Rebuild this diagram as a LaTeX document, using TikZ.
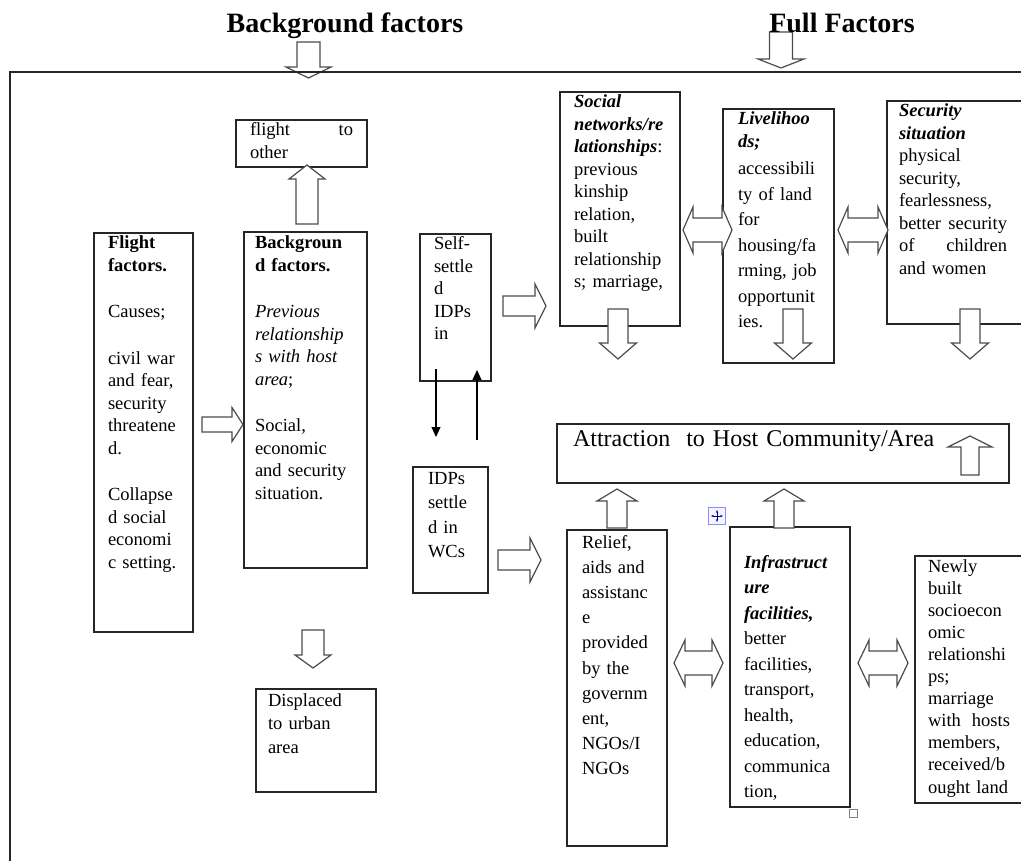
\documentclass[tikz,border=0pt]{standalone}
\usepackage{fontspec}
\setmainfont{Liberation Serif}
\usepackage{tikz}
\usetikzlibrary{positioning,arrows.meta,calc}

\newcommand{\boxfont}{\fontsize{18.5}{22.5}\selectfont}
\newcommand{\wideline}[2]{\leavevmode\hbox to #1{#2}}

\begin{document}
\begin{tikzpicture}[
    x=1pt, y=-1pt,
    box/.style={rectangle, draw=black!85, line width=1.1pt, anchor=north west, align=left, inner ysep=0pt, outer sep=0pt, font=\boxfont},
    heading/.style={font=\fontsize{28}{30}\selectfont\bfseries, anchor=base},
    blockline/.style={draw=black!70, line width=1.2pt, fill=white, line join=miter},
    thinarrow/.style={line width=1.1pt, -{Triangle[length=10pt,width=9pt]}},
    pics/blockarrow/.style n args={4}{code={
        \draw[blockline] (0,-#2/2) -- (#1-#4,-#2/2) -- (#1-#4,-#3/2) -- (#1,0)
            -- (#1-#4,#3/2) -- (#1-#4,#2/2) -- (0,#2/2) -- cycle;}},
    pics/doublearrow/.style n args={4}{code={
        \draw[blockline] (0,0) -- (#4,-#3/2) -- (#4,-#2/2) -- (#1-#4,-#2/2) -- (#1-#4,-#3/2)
            -- (#1,0) -- (#1-#4,#3/2) -- (#1-#4,#2/2) -- (#4,#2/2) -- (#4,#3/2) -- cycle;}}
]
\useasboundingbox (0,0) rectangle (1021,861);
\clip (0,0) rectangle (1021,861);

% Left side: flight and background factors
\node[box, inner xsep=14pt, text width=103pt, text height=16pt, text depth=31pt] (other) at (236,120)
    {flight\hfill to\\other};
\node[box, inner xsep=14pt, text width=71pt, text height=16pt, text depth=383pt] (flight) at (94,233)
    {\textbf{Flight}\\\textbf{factors.}\\[24pt]Causes;\\[24pt]civil war\\and fear,\\security\\threatene\\d.\\[24pt]Collapse\\d social\\economi\\c setting.};
\node[box, inner xsep=11pt, text width=101pt, text height=17pt, text depth=319pt] (bg) at (244,232)
    {\textbf{Backgroun}\\\textbf{d factors.}\\[24pt]\textit{Previous}\\\textit{relationship}\\\textit{s with host}\\\textit{area};\\[24pt]Social,\\economic\\and security\\situation.};
\node[box, inner xsep=12pt, text width=96pt, text height=17pt, text depth=86pt, font=\fontsize{18.5}{23.5}\selectfont] (urban) at (256,689)
    {Displaced\\to urban\\area};

% Middle: IDPs
\node[box, inner xsep=14pt, text width=43pt, text height=16pt, text depth=131pt] (self) at (420,234)
    {Self-\\settle\\d\\IDPs\\in};
\node[box, inner xsep=15pt, text width=45pt, text height=17pt, text depth=109pt, font=\fontsize{18.5}{24.5}\selectfont] (wcs) at (413,467)
    {IDPs\\settle\\d in\\WCs};

% Full factors, top row
\node[box, inner xsep=14pt, text width=92pt, text height=16pt, text depth=218pt] (social) at (560,92)
    {\textbf{\textit{Social}}\\\textbf{\textit{networks/re}}\\\textbf{\textit{lationships}}:\\previous\\kinship\\relation,\\built\\relationship\\s; marriage,};
\node[box, inner xsep=15pt, text width=81pt, text height=16pt, text depth=238pt, font=\fontsize{18.5}{25.5}\selectfont] (liveli) at (723,109)
    {\textbf{\textit{Livelihoo}}\\[-2.5pt]\textbf{\textit{ds;}}\\[1.5pt]accessibili\\ty of land\\for\\housing/fa\\rming, job\\opportunit\\ies.};
\node[box, inner xsep=12pt, text width=136pt, text height=16pt, text depth=207pt] (security) at (887,101)
    {\textbf{\textit{Security}}\\\textbf{\textit{situation}}\\physical\\security,\\fearlessness,\\\wideline{108pt}{better\hfill security}\\\wideline{108pt}{of\hfill children}\\and women};

% Attraction
\node[box, inner xsep=16pt, text width=420pt, text height=22pt, text depth=37pt, font=\fontsize{24}{26}\selectfont] (attract) at (557,424)
    {Attraction\ \ to Host Community/Area};

% Full factors, bottom row
\node[box, inner xsep=15pt, text width=70pt, text height=18pt, text depth=298pt, font=\fontsize{18.5}{25.2}\selectfont] (relief) at (567,530)
    {Relief,\\aids and\\assistanc\\e\\provided\\by the\\governm\\ent,\\NGOs/I\\NGOs};
\node[box, inner xsep=14pt, text width=92pt, text height=41pt, text depth=239pt, font=\fontsize{18.5}{25.5}\selectfont] (infra) at (730,527)
    {\textbf{\textit{Infrastruct}}\\\textbf{\textit{ure}}\\\textbf{\textit{facilities,}}\\better\\facilities,\\transport,\\health,\\education,\\communica\\tion,};
\node[box, inner xsep=13pt, text width=104pt, text height=16pt, text depth=231pt, font=\fontsize{18.5}{22.1}\selectfont] (newly) at (915,556)
    {Newly\\built\\socioecon\\omic\\relationshi\\ps;\\marriage\\\wideline{82pt}{with\hfill hosts}\\members,\\received/b\\ought land};

% Block arrows
\pic[rotate=-90] at (308.5,42) {blockarrow={36}{23}{45}{11}};
\pic[rotate=-90] at (781,32) {blockarrow={36}{23}{46}{9}};
\pic[rotate=90] at (307,224) {blockarrow={59}{22}{36}{14}};
\pic at (202,424.5) {blockarrow={41}{15}{34}{11}};
\pic[rotate=-90] at (313,630) {blockarrow={38}{22}{36}{13}};
\pic at (503,306) {blockarrow={43}{20}{44}{11}};
\pic at (498,560) {blockarrow={43}{20}{44}{11}};
\pic at (683,230) {doublearrow={49}{24}{46}{10}};
\pic at (838,230) {doublearrow={50}{24}{46}{10}};
\pic[rotate=-90] at (618,309) {blockarrow={50}{20}{37}{16}};
\pic[rotate=-90] at (793,309) {blockarrow={50}{20}{37}{16}};
\pic[rotate=-90] at (970,309) {blockarrow={50}{20}{37}{16}};
\pic[rotate=90] at (970,475) {blockarrow={39}{18}{44}{11}};
\pic[rotate=90] at (617,528) {blockarrow={39}{20}{40}{12}};
\pic[rotate=90] at (784,528) {blockarrow={39}{20}{40}{12}};
\pic at (674,663) {doublearrow={49}{24}{46}{11}};
\pic at (858,663) {doublearrow={50}{24}{46}{11}};

% Self-settled <-> camps
\draw[thinarrow] ([xshift=16pt,yshift=12pt]self.south west) -- ([xshift=23pt,yshift=30pt]wcs.north west);
\draw[thinarrow] ([xshift=64pt,yshift=27pt]wcs.north west) -- ([xshift=57pt,yshift=11pt]self.south west);

% Handles
\node[draw=blue!45, fill=blue!4, minimum size=17pt, inner sep=0pt] (movehandle) at (717,516) {};
\draw[blue!60!black, line width=0.8pt, {Stealth[length=3pt]}-{Stealth[length=3pt]}] ([xshift=-6pt]movehandle.center) -- ([xshift=6pt]movehandle.center);
\draw[blue!60!black, line width=0.8pt, {Stealth[length=3pt]}-{Stealth[length=3pt]}] ([yshift=-6pt]movehandle.center) -- ([yshift=6pt]movehandle.center);
\node[draw=black!50, minimum size=8pt, inner sep=0pt] (sizehandle) at (853,813) {};

% Frame
\draw[line width=1.4pt, black!85] (10,861) -- (10,72) -- (1021,72);

% Titles
\node[heading] (bgtitle) at (345,33) {Background factors};
\node[heading] (fulltitle) at (842,33) {Full Factors};

\end{tikzpicture}
\end{document}
